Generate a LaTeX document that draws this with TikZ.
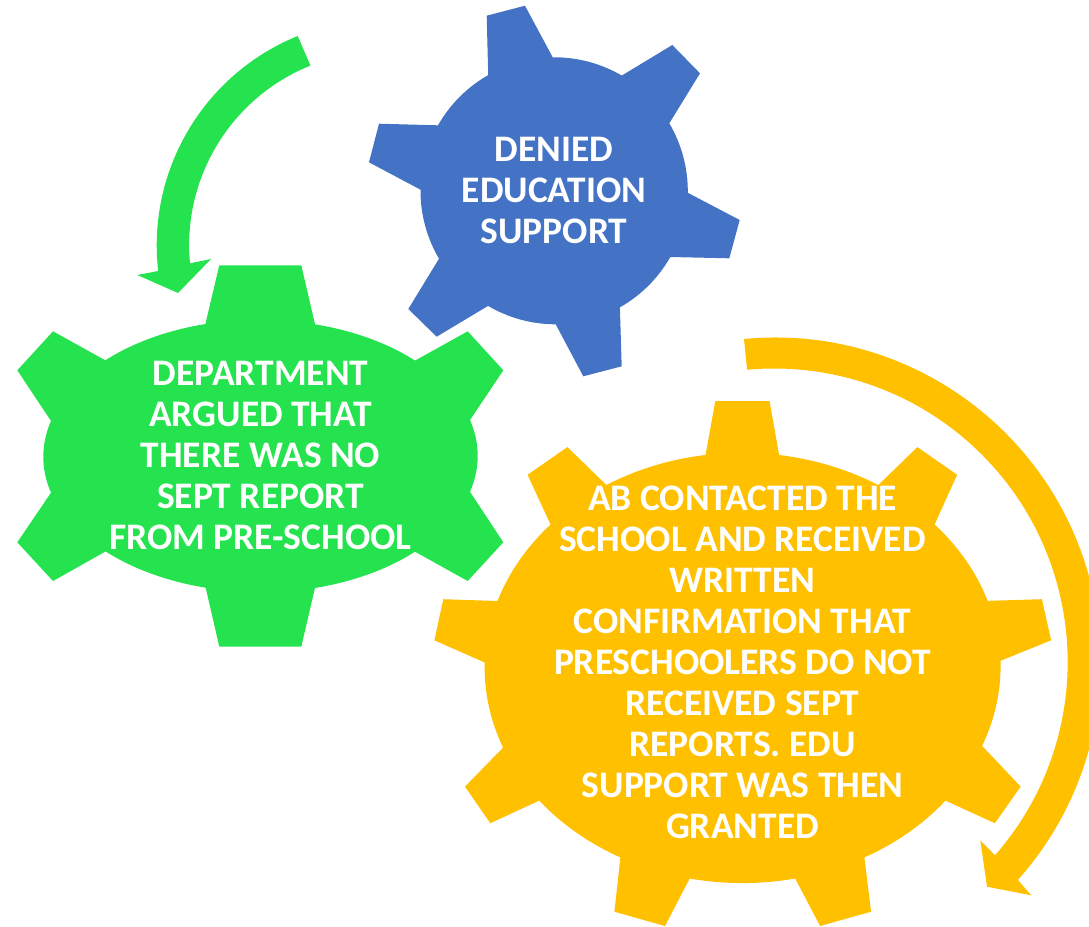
\documentclass[tikz,border=0pt]{standalone}
\usepackage{fontspec}
\setmainfont{Carlito}
\definecolor{gearblue}{HTML}{4472C4}
\definecolor{geargreen}{HTML}{24E34E}
\definecolor{gearyellow}{HTML}{FFC000}
\tikzset{
  geartext/.style={text=white,align=center,inner sep=0pt,
    font=\fontsize{28.1pt}{30.75pt}\selectfont\bfseries},
}
\begin{document}
\begin{tikzpicture}[x=0.75pt,y=-0.75pt]
\useasboundingbox (0,0) rectangle (1089,926);
\clip (0,0) rectangle (1089,926);
% blue gear
\fill[gearblue] (552.7,57.3) arc[start angle=-90.7,end angle=-59.7,radius=133.7]
 -- (672.3,45) -- (700,73.3) -- (669.3,123.3) arc[start angle=-30.5,end angle=0.7,radius=133.7]
 -- (739.7,220) -- (729.3,258.3) -- (670.3,257) arc[start angle=29.6,end angle=60.5,radius=133.7]
 -- (621.7,366.3) -- (583.3,376.3) -- (555.7,324.3) arc[start angle=90,end angle=120.4,radius=133.7]
 -- (436.7,336.7) -- (408.3,309) -- (439,258.7) arc[start angle=149.5,end angle=180.5,radius=133.7]
 -- (369,162.3) -- (379,123.7) -- (438,125.3) arc[start angle=209.6,end angle=240.4,radius=133.7]
 -- (486.7,15.7) -- (525,5.7) -- cycle;
% green gear
\fill[geargreen] (315,324.3) arc[start angle=-75.4,end angle=-44.5,x radius=217,y radius=136]
 -- (467.7,331.3) -- (503.3,370.3) -- (470,420) arc[start angle=-15.3,end angle=15.3,x radius=217,y radius=136]
 -- (503.3,542.3) -- (467.7,581) -- (415,551.7) arc[start angle=44.5,end angle=75.4,x radius=217,y radius=136]
 -- (301.3,646.7) -- (219.3,646.7) -- (205.7,587.7) arc[start angle=104.6,end angle=135.5,x radius=217,y radius=136]
 -- (53,581) -- (17.3,542.3) -- (51,492.7) arc[start angle=164.7,end angle=195.3,x radius=217,y radius=136]
 -- (17.3,370.3) -- (53,331.3) -- (105.3,360.3) arc[start angle=224.5,end angle=255.4,x radius=217,y radius=136]
 -- (219.3,265.3) -- (301.3,265.3) -- cycle;
% yellow gear
\fill[gearyellow] (779.1,455) arc[start angle=-81.8,end angle=-58.2,x radius=258,y radius=215]
 -- (917.4,447.1) -- (957.1,474.8) -- (934.6,524.4) arc[start angle=-41.9,end angle=-18.2,x radius=258,y radius=215]
 -- (1041.9,599.2) -- (1051.1,640.3) -- (1000.5,660.8) arc[start angle=-1.4,end angle=21.8,x radius=258,y radius=215]
 -- (1020.6,786.6) -- (994.9,823.2) -- (945.5,800.6) arc[start angle=38.1,end angle=61.8,x radius=258,y radius=215]
 -- (871.1,911.7) -- (820.1,926) -- (795.2,878.5) arc[start angle=78.2,end angle=101.8,x radius=258,y radius=215]
 -- (665,926) -- (614.4,911.7) -- (620.4,857.4) arc[start angle=118.2,end angle=141.9,x radius=258,y radius=215]
 -- (490.3,823.2) -- (465,786.6) -- (503.1,747.6) arc[start angle=158.2,end angle=181.4,x radius=258,y radius=215]
 -- (434.4,640.3) -- (443.3,599.2) -- (497.5,601) arc[start angle=198.2,end angle=221.9,x radius=258,y radius=215]
 -- (527.6,474.8) -- (567.4,447.1) -- (606.4,485) arc[start angle=238.2,end angle=261.8,x radius=258,y radius=215]
 -- (715.3,401) -- (769.5,401) -- cycle;
% green arrow
\fill[geargreen] (297.7,36) arc[start angle=247.9,end angle=173.5,radius=226]
 -- (137.3,275) -- (178,293) -- (211,259) -- (190,263.3)
 arc[start angle=174.6,end angle=248.1,radius=193.5] -- cycle;
% yellow arrow
\fill[gearyellow] (744,339) arc[start angle=-95.5,end angle=41.8,radius=325.5]
 -- (1031.3,895.3) -- (987,886.7) -- (980.3,840.3) -- (995,855.3)
 arc[start angle=41.2,end angle=-95.3,radius=293.5] -- cycle;
% labels
\node[geartext] (denied) at (554,190.3) {DENIED\\EDUCATION\\SUPPORT};
\node[geartext] (dept) at (260.5,455.3) {DEPARTMENT\\ARGUED THAT\\THERE WAS NO\\SEPT REPORT\\FROM PRE-SCHOOL};
\node[geartext] (ab) at (742.5,662.5) {AB CONTACTED THE\\SCHOOL AND RECEIVED\\WRITTEN\\CONFIRMATION THAT\\PRESCHOOLERS DO NOT\\RECEIVED SEPT\\REPORTS. EDU\\SUPPORT WAS THEN\\GRANTED};
\end{tikzpicture}
\end{document}
